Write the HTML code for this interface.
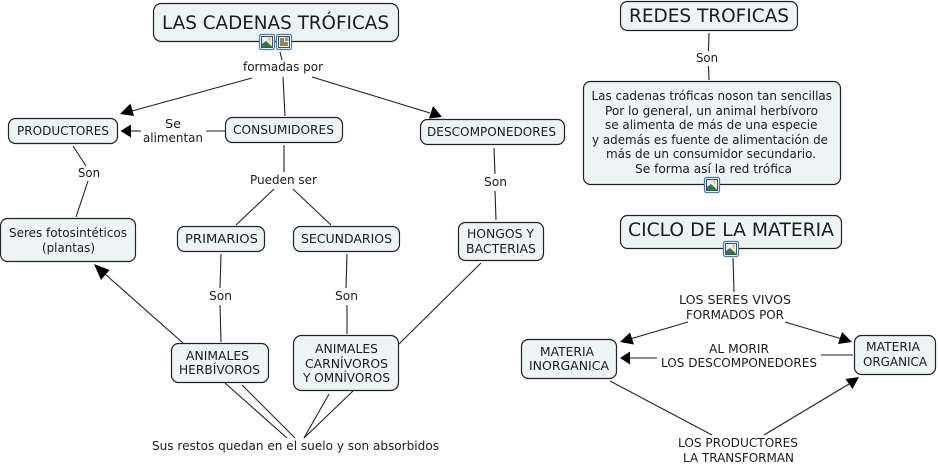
<!DOCTYPE html>
<html><head><meta charset="utf-8"><style>
html,body{margin:0;padding:0;background:#fff;width:938px;height:465px;overflow:hidden}
svg{display:block}
text{font-family:"DejaVu Sans","Liberation Sans",sans-serif;font-size:12.2px;fill:#1c1c1c}
.t{font-size:18.3px}
.b{fill:#eef3f6;stroke:#222;stroke-width:1.2}
.l{stroke:#222;stroke-width:1.1;fill:none}
.a{fill:#000}
</style></head><body>
<svg width="938" height="465" viewBox="0 0 938 465" xmlns="http://www.w3.org/2000/svg">
<defs>
<g id="pic">
<rect x="0.5" y="0.5" width="15" height="15" rx="2" fill="#fff" stroke="#3a78c8" stroke-width="1.2"/>
<rect x="2.5" y="2.500" width="11" height="11" fill="#e3eef5" stroke="#223" stroke-width="0.8"/>
<circle cx="10.500" cy="5" r="1.700" fill="#ecd24a"/>
<path d="M3 13 L3 10 L7 7 L13 12.500 L13 13 Z" fill="#2d7a3c"/>
</g>
<g id="doc">
<rect x="0.5" y="0.5" width="15" height="15" rx="2" fill="#fff" stroke="#3a78c8" stroke-width="1.2"/>
<rect x="2.5" y="2.500" width="11" height="11" fill="#f8f1b0" stroke="#223" stroke-width="0.8"/>
<path d="M4 5H8M4 7H8M4 9H12M4 11H12" stroke="#222" stroke-width="0.9"/>
<rect x="9" y="3.500" width="3.500" height="3.500" fill="#7a9cc0"/>
</g>
</defs>

<!-- connectors -->
<g class="l">
<path d="M280 52L282 60"/>
<path d="M252 78L132 111"/>
<path d="M283 77L285 116"/>
<path d="M312 77L430 113"/>
<path d="M225 131H206"/>
<path d="M141 131H130"/>
<path d="M284 145V172"/>
<path d="M274 189L236 225"/>
<path d="M293 189L331 225"/>
<path d="M73 146L86 166"/>
<path d="M88 181L76 217"/>
<path d="M221 254L220 288"/>
<path d="M220 305L221 342"/>
<path d="M347 254L346 288"/>
<path d="M347 305L347 334"/>
<path d="M494 148L495 174"/>
<path d="M495 191L496 220"/>
<path d="M183 343L105 274"/>
<path d="M399 344L481 263"/>
<path d="M225 383L287 438"/>
<path d="M242 385L295 438"/>
<path d="M329 394L304 438"/>
<path d="M353 391L304 438"/>
<path d="M709 33L708.500 51"/>
<path d="M708.500 66L709 80"/>
<path d="M733 258L734 292"/>
<path d="M688 322L630 339"/>
<path d="M785 322L842 339"/>
<path d="M853 355H821"/>
<path d="M657 358H630"/>
<path d="M610 381L712 435"/>
<path d="M764 435L849 384"/>
</g>
<!-- arrowheads -->
<g class="a">
<polygon points="120,114 130.500,103.500 134,116"/>
<polygon points="442,117 429,118.500 433,106"/>
<polygon points="120.500,131 131,124.500 131,137.500"/>
<polygon points="94,264 109.500,270 101,280"/>
<polygon points="620,342 630,332.500 634,344.500"/>
<polygon points="852,342 838,344 842,332"/>
<polygon points="620,358 630,351.500 630,364.500"/>
<polygon points="859,377 852.500,389 845.500,379"/>
</g>

<!-- nodes -->
<rect class="b" x="153.500" y="3.500" width="245" height="38" rx="8"/>
<rect class="b" x="225.500" y="117.500" width="117" height="25" rx="7"/>
<rect class="b" x="8.500" y="118.500" width="109" height="25" rx="7"/>
<rect class="b" x="420.500" y="119.500" width="144" height="25" rx="7"/>
<rect class="b" x="0.500" y="218.500" width="135" height="43" rx="7"/>
<rect class="b" x="177.500" y="226.500" width="87" height="25" rx="7"/>
<rect class="b" x="293.500" y="226.500" width="106" height="25" rx="7"/>
<rect class="b" x="458.500" y="222.500" width="85" height="38" rx="7"/>
<rect class="b" x="171.500" y="343.500" width="97" height="39" rx="7"/>
<rect class="b" x="293.500" y="335.500" width="105" height="55" rx="8"/>
<rect class="b" x="620.500" y="1.500" width="177" height="29" rx="7"/>
<rect class="b" x="583.500" y="81.500" width="257" height="103" rx="7"/>
<rect class="b" x="620.500" y="215.500" width="221" height="33" rx="7"/>
<rect class="b" x="521.500" y="339.500" width="95" height="39" rx="7"/>
<rect class="b" x="854.500" y="335.500" width="81" height="39" rx="7"/>

<!-- icons -->
<use href="#pic" x="259" y="34"/>
<use href="#doc" x="276" y="34"/>
<use href="#pic" x="704" y="177"/>
<use href="#pic" x="723" y="241"/>

<!-- text -->
<g>
<text class="t" x="162" y="29" textLength="227" lengthAdjust="spacingAndGlyphs">LAS CADENAS TRÓFICAS</text>
<text x="243" y="71" textLength="80" lengthAdjust="spacingAndGlyphs">formadas por</text>
<text x="233" y="134" textLength="101" lengthAdjust="spacingAndGlyphs">CONSUMIDORES</text>
<text x="165" y="128" textLength="16" lengthAdjust="spacingAndGlyphs">Se</text>
<text x="143" y="142" textLength="60" lengthAdjust="spacingAndGlyphs">alimentan</text>
<text x="17" y="135" textLength="92" lengthAdjust="spacingAndGlyphs">PRODUCTORES</text>
<text x="427" y="136" textLength="129" lengthAdjust="spacingAndGlyphs">DESCOMPONEDORES</text>
<text x="78" y="177" textLength="22" lengthAdjust="spacingAndGlyphs">Son</text>
<text x="250" y="184" textLength="67" lengthAdjust="spacingAndGlyphs">Pueden ser</text>
<text x="484" y="186" textLength="23" lengthAdjust="spacingAndGlyphs">Son</text>
<text x="9" y="237" textLength="118" lengthAdjust="spacingAndGlyphs">Seres fotosintéticos</text>
<text x="42" y="252" textLength="53" lengthAdjust="spacingAndGlyphs">(plantas)</text>
<text x="185" y="243" textLength="73" lengthAdjust="spacingAndGlyphs">PRIMARIOS</text>
<text x="301" y="243" textLength="91" lengthAdjust="spacingAndGlyphs">SECUNDARIOS</text>
<text x="467" y="238" textLength="67" lengthAdjust="spacingAndGlyphs">HONGOS Y</text>
<text x="466" y="253" textLength="70" lengthAdjust="spacingAndGlyphs">BACTERIAS</text>
<text x="209" y="300" textLength="23" lengthAdjust="spacingAndGlyphs">Son</text>
<text x="335" y="300" textLength="23" lengthAdjust="spacingAndGlyphs">Son</text>
<text x="186" y="360" textLength="63" lengthAdjust="spacingAndGlyphs">ANIMALES</text>
<text x="179" y="374" textLength="81" lengthAdjust="spacingAndGlyphs">HERBÍVOROS</text>
<text x="315" y="353" textLength="63" lengthAdjust="spacingAndGlyphs">ANIMALES</text>
<text x="305" y="368" textLength="83" lengthAdjust="spacingAndGlyphs">CARNÍVOROS</text>
<text x="303" y="382" textLength="87" lengthAdjust="spacingAndGlyphs">Y OMNÍVOROS</text>
<text x="152" y="450" textLength="287" lengthAdjust="spacingAndGlyphs">Sus restos quedan en el suelo y son absorbidos</text>

<text class="t" x="629" y="22" textLength="160" lengthAdjust="spacingAndGlyphs">REDES TROFICAS</text>
<text x="696" y="62" textLength="22" lengthAdjust="spacingAndGlyphs">Son</text>
<text x="591.500" y="100" textLength="240.500" lengthAdjust="spacingAndGlyphs">Las cadenas tróficas noson tan sencillas</text>
<text x="605" y="115" textLength="213" lengthAdjust="spacingAndGlyphs">Por lo general, un animal herbívoro</text>
<text x="605" y="129" textLength="212.500" lengthAdjust="spacingAndGlyphs">se alimenta de más de una especie</text>
<text x="592" y="144" textLength="236" lengthAdjust="spacingAndGlyphs">y además es fuente de alimentación de</text>
<text x="606" y="158" textLength="210" lengthAdjust="spacingAndGlyphs">más de un consumidor secundario.</text>
<text x="635" y="173" textLength="157" lengthAdjust="spacingAndGlyphs">Se forma así la red trófica</text>
<text class="t" x="628" y="236" textLength="206" lengthAdjust="spacingAndGlyphs">CICLO DE LA MATERIA</text>
<text x="679" y="304" textLength="112" lengthAdjust="spacingAndGlyphs">LOS SERES VIVOS</text>
<text x="686" y="319" textLength="98" lengthAdjust="spacingAndGlyphs">FORMADOS POR</text>
<text x="540" y="356" textLength="54" lengthAdjust="spacingAndGlyphs">MATERIA</text>
<text x="529" y="370" textLength="80" lengthAdjust="spacingAndGlyphs">INORGANICA</text>
<text x="866" y="351" textLength="54" lengthAdjust="spacingAndGlyphs">MATERIA</text>
<text x="863" y="366" textLength="64" lengthAdjust="spacingAndGlyphs">ORGANICA</text>
<text x="709" y="353" textLength="60" lengthAdjust="spacingAndGlyphs">AL MORIR</text>
<text x="661" y="367" textLength="156" lengthAdjust="spacingAndGlyphs">LOS DESCOMPONEDORES</text>
<text x="678" y="447" textLength="120" lengthAdjust="spacingAndGlyphs">LOS PRODUCTORES</text>
<text x="683" y="462" textLength="111" lengthAdjust="spacingAndGlyphs">LA TRANSFORMAN</text>
</g>
</svg>
</body></html>
